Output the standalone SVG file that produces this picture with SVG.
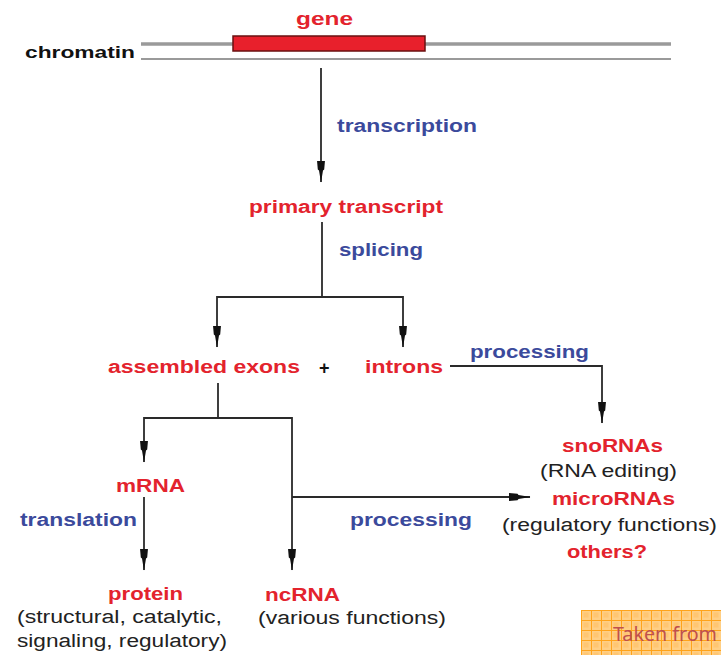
<svg xmlns="http://www.w3.org/2000/svg" width="721" height="655" viewBox="0 0 721 655">
<defs>
<style>
text{font-family:"Liberation Sans",Arial,sans-serif;}
.r{fill:#e3232d;font-weight:bold;font-size:18px;}
.b{fill:#3b4a9c;font-weight:bold;font-size:18px;}
.k{fill:#222;font-size:18px;}
.ln{stroke:#2a2a2a;stroke-width:1.8;fill:none;}
</style>
<marker id="ah" viewBox="0 0 22 10" refX="21.5" refY="5" markerWidth="22" markerHeight="10" markerUnits="userSpaceOnUse" orient="auto-start-reverse">
<path d="M0,1 L9,1.8 L10,3 L22,5 L10,7 L9,8.2 L0,9 Z" fill="#111"/>
</marker>
<pattern id="grid" width="10" height="10" patternUnits="userSpaceOnUse" x="581" y="610">
<rect width="10" height="10" fill="#ffcf85"/>
<rect x="2.5" y="2.5" width="5" height="5" fill="#ffc672"/>
<path d="M0,0.5 H10 M0.5,0 V10" stroke="#ffa31a" stroke-width="1"/>
</pattern>
</defs>
<rect width="721" height="655" fill="#fff"/>

<g id="chromatin">
<line x1="141" y1="44" x2="671" y2="44" stroke="#9a9a9a" stroke-width="3.5"/>
<line x1="141" y1="59" x2="671" y2="59" stroke="#9a9a9a" stroke-width="2"/>
<text x="25" y="58" textLength="110" lengthAdjust="spacingAndGlyphs" style="font-weight:bold;font-size:17px;fill:#111;">chromatin</text>
</g>
<g id="gene">
<rect x="233" y="36" width="192" height="15" fill="#e8202c" stroke="#6a1010" stroke-width="1.5"/>
<text class="r" x="296" y="25" textLength="57" lengthAdjust="spacingAndGlyphs">gene</text>
</g>
<g id="primary">
<text class="r" x="249" y="213" textLength="194" lengthAdjust="spacingAndGlyphs">primary transcript</text>
</g>
<g id="exons">
<text class="r" x="108" y="373" textLength="192" lengthAdjust="spacingAndGlyphs">assembled exons</text>
<text x="319" y="374" style="font-weight:bold;font-size:18px;fill:#111;">+</text>
</g>
<g id="introns">
<text class="r" x="365" y="373" textLength="78" lengthAdjust="spacingAndGlyphs">introns</text>
</g>
<g id="mrna">
<text class="r" x="116" y="492" textLength="69" lengthAdjust="spacingAndGlyphs">mRNA</text>
</g>
<g id="protein">
<text class="r" x="108" y="600" textLength="75" lengthAdjust="spacingAndGlyphs">protein</text>
<text class="k" x="17" y="623" textLength="205" lengthAdjust="spacingAndGlyphs">(structural, catalytic,</text>
<text class="k" x="17" y="647" textLength="210" lengthAdjust="spacingAndGlyphs">signaling, regulatory)</text>
</g>
<g id="ncrna">
<text class="r" x="265" y="601" textLength="75" lengthAdjust="spacingAndGlyphs">ncRNA</text>
<text class="k" x="258" y="624" textLength="188" lengthAdjust="spacingAndGlyphs">(various functions)</text>
</g>
<g id="smallrnas">
<text class="r" x="562" y="452" textLength="101" lengthAdjust="spacingAndGlyphs">snoRNAs</text>
<text class="k" x="540" y="477" textLength="137" lengthAdjust="spacingAndGlyphs">(RNA editing)</text>
<text class="r" x="552" y="505" textLength="123" lengthAdjust="spacingAndGlyphs">microRNAs</text>
<text class="k" x="502" y="531" textLength="215" lengthAdjust="spacingAndGlyphs">(regulatory functions)</text>
<text class="r" x="567" y="558" textLength="80" lengthAdjust="spacingAndGlyphs">others?</text>
</g>

<g id="connectors">
<line class="ln" x1="321" y1="68" x2="321" y2="182" marker-end="url(#ah)"/>
<text class="b" x="337" y="132" textLength="140" lengthAdjust="spacingAndGlyphs">transcription</text>
<line class="ln" x1="322" y1="222" x2="322" y2="297"/>
<text class="b" x="339" y="256" textLength="84" lengthAdjust="spacingAndGlyphs">splicing</text>
<polyline class="ln" points="217,347 217,297 403,297 403,347" marker-start="url(#ah)" marker-end="url(#ah)"/>
<polyline class="ln" points="450,366 602,366 602,423" marker-end="url(#ah)"/>
<text class="b" x="470" y="358" textLength="119" lengthAdjust="spacingAndGlyphs">processing</text>
<line class="ln" x1="218" y1="383" x2="218" y2="418"/>
<polyline class="ln" points="144,462 144,418 292,418 292,570" marker-start="url(#ah)" marker-end="url(#ah)"/>
<line class="ln" x1="144" y1="497" x2="144" y2="570" marker-end="url(#ah)"/>
<text class="b" x="20" y="526" textLength="117" lengthAdjust="spacingAndGlyphs">translation</text>
<line class="ln" x1="292" y1="497" x2="530" y2="497" marker-end="url(#ah)"/>
<text class="b" x="350" y="526" textLength="122" lengthAdjust="spacingAndGlyphs">processing</text>
</g>

<g id="note">
<rect x="581" y="610" width="140" height="45" fill="url(#grid)"/>
<text x="613" y="641" textLength="104" lengthAdjust="spacingAndGlyphs" style="font-family:'Noto Sans','Open Sans',sans-serif;font-size:19px;fill:#c0504d;">Taken from</text>
</g>
</svg>
